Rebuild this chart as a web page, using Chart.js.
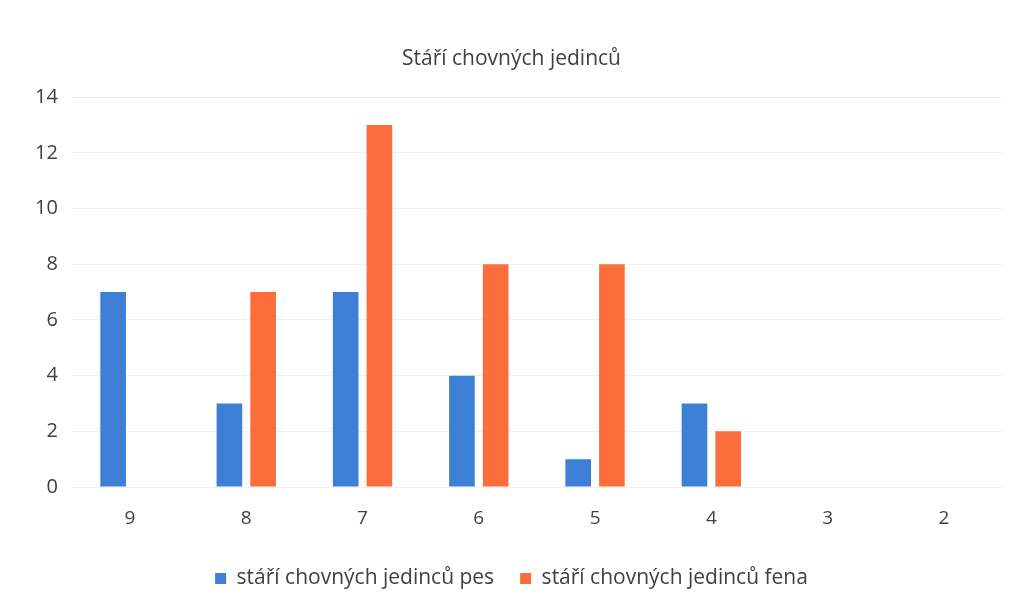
<!DOCTYPE html>
<html>
<head>
<meta charset="utf-8">
<script src="https://cdn.jsdelivr.net/npm/chart.js@4/dist/chart.umd.min.js"></script>
<style>
  html, body { margin: 0; padding: 0; background: #fff; }
  #wrap { width: 1024px; height: 614px; position: relative; }
</style>
</head>
<body>
<div id="wrap"><canvas id="chart" width="1024" height="614"></canvas></div>
<script>
// age categories (years)
const categories = ["9", "8", "7", "6", "5", "4", "3", "2"];
// number of breeding animals
const pesValues = [7, 3, 7, 4, 1, 3, 0, 0];
const fenaValues = [0, 7, 13, 8, 8, 2, 0, 0];
const yTicks = [0, 2, 4, 6, 8, 10, 12, 14];

const fontFamily = "'Open Sans', 'Noto Sans', sans-serif";
const textColor = "#404040";

const ctx = document.getElementById("chart").getContext("2d");
new Chart(ctx, {
  type: "bar",
  data: {
    labels: categories,
    datasets: [
      {
        label: "stáří chovných jedinců pes",
        data: pesValues,
        backgroundColor: "#3d7fd6",
      },
      {
        label: "stáří chovných jedinců fena",
        data: fenaValues,
        backgroundColor: "#fb6d3a",
      },
    ],
  },
  options: {
    responsive: false,
    animation: false,
    categoryPercentage: 0.58,
    barPercentage: 0.76,
    layout: { padding: { left: 21, right: 22, top: 8, bottom: 15 } },
    scales: {
      x: {
        grid: { display: false },
        border: { display: false },
        ticks: { color: textColor, font: { family: fontFamily, size: 19, lineHeight: 1.0 }, padding: 14 },
      },
      y: {
        min: 0,
        max: 14,
        afterBuildTicks: (axis) => {
          axis.ticks = yTicks.map((v) => ({ value: v }));
        },
        grid: { color: "#f0f0f0", drawTicks: false },
        border: { display: false },
        ticks: { color: textColor, font: { family: fontFamily, size: 20 }, padding: 14 },
      },
    },
    plugins: {
      title: {
        display: true,
        text: "Stáří chovných jedinců",
        color: textColor,
        font: { family: fontFamily, size: 21, weight: "normal" },
        padding: { top: 38, bottom: 26 },
      },
      legend: {
        position: "bottom",
        labels: {
          color: textColor,
          font: { family: fontFamily, size: 21, lineHeight: 1.0 },
          boxWidth: 11,
          boxHeight: 11,
          padding: 26,
        },
      },
      tooltip: { enabled: false },
    },
  },
});
</script>
</body>
</html>
